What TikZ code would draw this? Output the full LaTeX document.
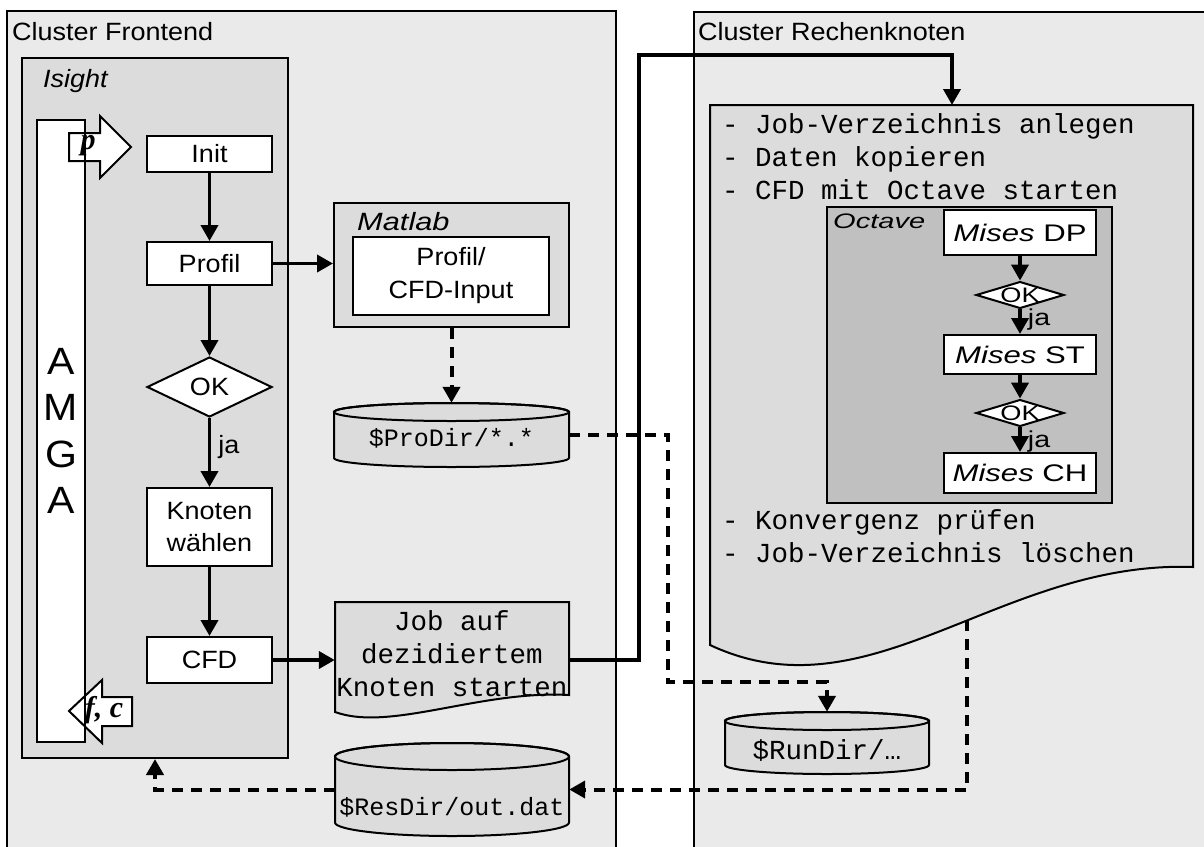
\documentclass[tikz,border=0pt]{standalone}
\usepackage{graphicx}
\usepackage{fontspec}
\setmainfont{Liberation Sans}[FakeStretch=1.08]
\newfontfamily\mymono{Liberation Mono}
\newfontfamily\myserif{Liberation Serif}
\usetikzlibrary{arrows.meta,shapes.geometric}
\newcommand\setfs[2]{\fontsize{#1}{#2}\selectfont}
\newcommand\hst[2]{\scalebox{#1}[1]{#2}}
\definecolor{clbg}{HTML}{EAEAEA}
\definecolor{midg}{HTML}{DCDCDC}
\definecolor{octg}{HTML}{C0C0C0}
\begin{document}
\begin{tikzpicture}[x=1pt,y=-1pt,
  frame/.style={draw,line width=2pt},
  box/.style={draw,line width=2pt,fill=white,minimum width=125pt,inner sep=0pt,align=center,font=\setfs{25}{31.7}},
  okdia/.style={diamond,draw,line width=2pt,fill=white,inner sep=0pt,font=\setfs{25}{30}},
  mbox/.style={draw,line width=2pt,fill=white,minimum width=152pt,inner sep=0pt,font=\setfs{24}{28}},
  flow/.style={line width=3.8pt,-{Triangle[length=16pt,width=17pt]}},
  dflow/.style={line width=4pt,dash pattern=on 11pt off 8pt,-{Triangle[length=16pt,width=17pt]}},
  lbl/.style={anchor=base west,inner sep=0pt,font=\setfs{25}{28}},
  ilbl/.style={anchor=base west,inner sep=0pt,font=\setfs{25}{28}\itshape},
  mono/.style={inner sep=0pt,font=\mymono\setfs{27.5}{33}},
  monosm/.style={inner sep=0pt,font=\mymono\setfs{25}{30}},
  greek/.style={inner sep=0pt,font=\myserif\bfseries\itshape\setfs{30}{30}},
  jalbl/.style={inner sep=0pt,anchor=west,font=\setfs{25}{28}},
  cyl/.style={inner sep=0pt},
]
\path[use as bounding box] (0,0) rectangle (1204,846);
\clip (0,0) rectangle (1204,846);

% clusters
\path[frame,fill=clbg] (7,11) rectangle (616,880);
\path[frame,fill=clbg] (694,12) rectangle (1230,880);
\node[lbl] (tfront) at (12,40) {Cluster Frontend};
\node[lbl] (trech) at (698,40) {Cluster Rechenknoten};

% Isight
\node[frame,fill=midg,minimum width=266pt,minimum height=700pt,inner sep=0pt] (isight) at (155,408) {};
\node[ilbl] (tisight) at (43,87) {Isight};

% AMGA bar and block arrows
\fill[white] (37,120) rectangle (85,742);
\draw[line width=2pt,fill=white] (69,133) -- (100,133) -- (100,116) -- (131,147) -- (100,178) -- (100,161) -- (69,161) -- cycle;
\draw[line width=2pt,fill=white] (69,711) -- (102,680) -- (102,697) -- (132,697) -- (132,726) -- (102,726) -- (102,743) -- cycle;
\node[draw,line width=2pt,minimum width=48pt,minimum height=622pt,inner sep=0pt,align=center,font=\setfs{38}{46.5}] (amga) at (61,431) {A\\M\\G\\A};
\node[greek] (tp) at (88,146) {p};
\node[greek] (tfc) at (104,710) {f, c};

% flow boxes
\node[box,minimum height=36pt] (init) at (209.5,154) {Init};
\node[box,minimum height=43pt] (profil) at (209.5,263.5) {Profil};
\node[okdia,aspect=2.08,minimum width=125pt,minimum height=60pt] (ok) at (209.5,387) {OK};
\node[box,minimum height=78pt] (knoten) at (209.5,527) {Knoten\\wählen};
\node[box,minimum height=46pt] (cfd) at (209.5,660) {CFD};

% Matlab
\node[frame,fill=midg,minimum width=235pt,minimum height=124pt,inner sep=0pt] (matlab) at (451.5,265) {};
\node[ilbl] (tmatlab) at (357,230) {\hst{1.14}{Matlab}};
\node[box,minimum width=196pt,minimum height=78pt,font=\setfs{25}{33}] (mlin) at (451,276) {Profil/\\CFD-Input};

% ProDir cylinder
\path[frame,fill=midg] (334,412) -- (334,458) arc[start angle=180,end angle=0,x radius=117.5,y radius=9] -- (569,412) arc[start angle=0,end angle=-180,x radius=117.5,y radius=9] -- cycle;
\draw[line width=2pt] (451.5,412) ellipse [x radius=117.5,y radius=9];
\node[cyl,minimum width=235pt,minimum height=64pt] (prodir) at (451.5,435) {};
\node[monosm] (tprodir) at (451.5,438) {\$ProDir/*.*};

% Job document
\path[frame,fill=midg] (335,602) -- (569,602) -- (569,695) .. controls (480,690) and (390,732) .. (335,712) -- cycle;
\node[mono,align=center,minimum width=234pt,minimum height=93pt] (job) at (452,654) {Job auf\\dezidiertem\\Knoten starten};

% ResDir cylinder
\path[frame,fill=midg] (335,756.5) -- (335,822.5) arc[start angle=180,end angle=0,x radius=117,y radius=13.5] -- (569,756.5) arc[start angle=0,end angle=-180,x radius=117,y radius=13.5] -- cycle;
\draw[line width=2pt] (452,756.5) ellipse [x radius=117,y radius=13.5];
\node[cyl,minimum width=234pt,minimum height=93pt] (resdir) at (452,789.5) {};
\node[monosm] (tresdir) at (452,807) {\$ResDir/out.dat};

% Rechenknoten document
\path[frame,fill=midg] (710,105) -- (1193,105) -- (1193,567) .. controls (1000,560) and (870,720) .. (710,645) -- cycle;
\coordinate (rdocin) at (952,105);
\coordinate (rdocout) at (967,620);
\node[mono,anchor=north west,align=left] (steps1) at (722,113) {- Job-Verzeichnis anlegen\\- Daten kopieren\\- CFD mit Octave starten};
\node[mono,anchor=north west,align=left] (steps2) at (722,509) {- Konvergenz prüfen\\- Job-Verzeichnis löschen};

% Octave
\node[frame,fill=octg,minimum width=285pt,minimum height=296pt,inner sep=0pt] (octave) at (969.5,355) {};
\node[ilbl,font=\setfs{21}{26}\itshape] (toct) at (833,228) {\hst{1.28}{Octave}};
\node[mbox,minimum height=45pt] (dp) at (1020,232.5) {\hst{1.2}{\textit{Mises} DP}};
\node[okdia,aspect=3.27,minimum width=85pt,minimum height=26pt,font=\setfs{21}{21}] (ok1) at (1020,295) {\hst{1.2}{OK}};
\node[mbox,minimum height=39pt] (st) at (1020,354.5) {\hst{1.2}{\textit{Mises} ST}};
\node[okdia,aspect=3.27,minimum width=85pt,minimum height=26pt,font=\setfs{21}{21}] (ok2) at (1020,413) {\hst{1.2}{OK}};
\node[mbox,minimum height=40pt] (ch) at (1020,473) {\hst{1.2}{\textit{Mises} CH}};
\draw[flow] (dp) -- (ok1);
\draw[flow] (ok1) -- (st) node[jalbl,midway,xshift=6pt,yshift=2pt,font=\setfs{23}{26}] (ja2) {\hst{1.15}{ja}};
\draw[flow] (st) -- (ok2);
\draw[flow] (ok2) -- (ch) node[jalbl,midway,xshift=6pt,yshift=-2pt,font=\setfs{23}{26}] (ja3) {\hst{1.15}{ja}};

% RunDir cylinder
\path[frame,fill=midg] (725,721) -- (725,765) arc[start angle=180,end angle=0,x radius=102,y radius=9] -- (929,721) arc[start angle=0,end angle=-180,x radius=102,y radius=9] -- cycle;
\draw[line width=2pt] (827,721) ellipse [x radius=102,y radius=9];
\node[cyl,minimum width=204pt,minimum height=62pt] (rundir) at (827,743) {};
\node[mono] (trundir) at (827,750) {\$RunDir/…};

% connectors
\draw[flow] (init) -- (profil);
\draw[flow] (profil) -- (ok);
\draw[flow] (ok) -- (knoten) node[jalbl,midway,xshift=7pt,yshift=5pt] (ja1) {ja};
\draw[flow] (knoten) -- (cfd);
\draw[flow] (profil.east) -- (profil.east -| matlab.west);
\draw[flow] (cfd.east) -- (cfd.east -| job.west);
\coordinate (bendA) at (639,55);
\draw[flow] (job.east |- cfd.east) -| (bendA) -| (rdocin);
\draw[dflow] (matlab.south) -- (prodir.north);
\coordinate (bendB) at (668,682);
\draw[dflow] (prodir.east) -| (bendB) -| (rundir.north);
\draw[dflow] (rdocout) |- (resdir.east);
\draw[dflow] (resdir.west) -| (isight.south);
\end{tikzpicture}
\end{document}
